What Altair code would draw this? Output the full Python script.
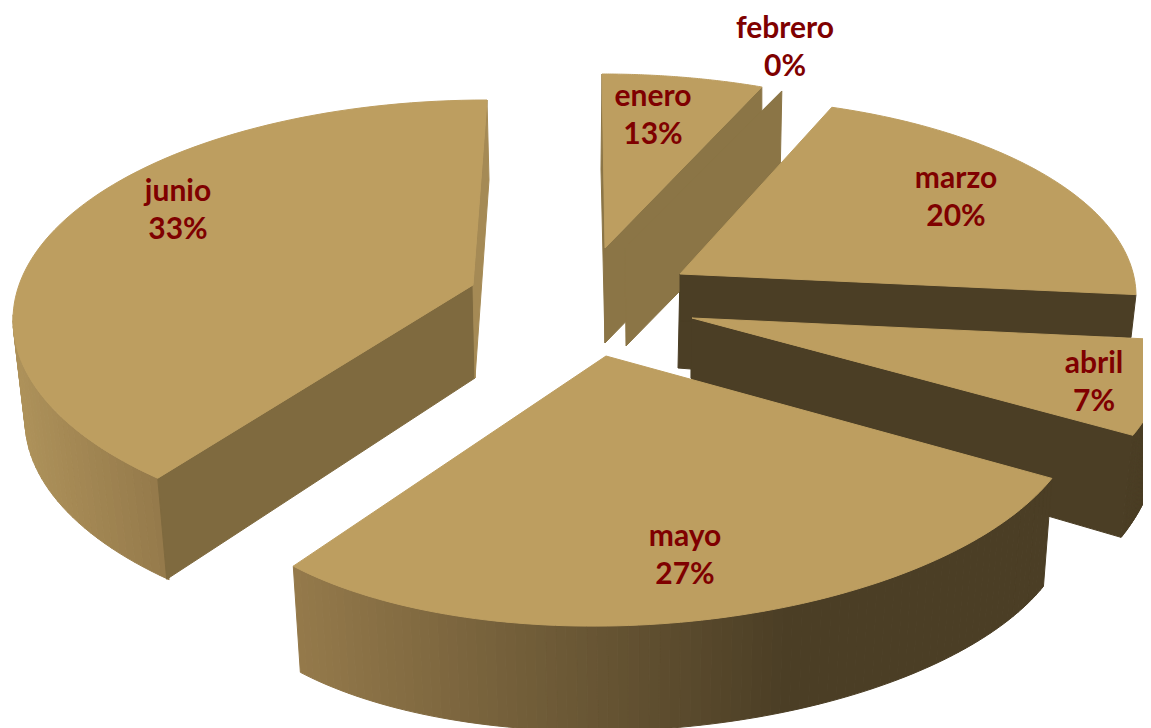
import numpy as np
import altair as alt

# ---- data
months = ["enero", "febrero", "marzo", "abril", "mayo", "junio"]
shares = [13, 0, 20, 7, 27, 33]

# ---- colours
TOP = "#bd9e60"
DARK = "#4b3e25"
TEXT = "#7f0000"

# ---- per-slice view of the tilted pie: apex, top ellipse, shear, first angle,
#      angular stretch of the view, and the extrusion of the cut faces
view = {
    "enero":   dict(apex=(605, 248), e=(602, 264, 440, 190), s=0, t0=0.0, k=21.3 / 46.8,
                    start_drop=(-1, 95), end_drop=(0, 95), start_col="#8b7546", end_col="#8b7546"),
    "febrero": dict(apex=(625, 248), e=(622, 268, 440, 190), s=0, t0=21.3, k=1.0,
                    end_drop=(-2, 98), end_col="#8b7546", apex_drop=(1, 98)),
    "marzo":   dict(apex=(680, 274), e=(700, 296, 436, 198), s=0, t0=17.6, k=1.0,
                    end_drop=(-5, 43), end_col=DARK, apex_drop=(0, 47)),
    "abril":   dict(apex=(692, 318), e=(700, 340, 470, 245), s=0, t0=90.0, k=22.9 / 25.2,
                    end_drop=(-12, 102), end_col=DARK, apex_drop=(-1, 94),
                    low=(690, 442, 468, 245), wall=(DARK, DARK, 0, 1)),
    "junio":   dict(apex=(473, 285), e=(487, 320, 474, 220), s=0, t0=224.0, k=136.0 / 118.8,
                    start_drop=(9, 101), start_col="#7f6a3f", end_drop=(2, 80), end_col="#a58a55",
                    apex_drop=(2, 93), low=(497, 420, 472, 222), wall=("#957a4b", "#ae925a", 160, 13)),
    "mayo":    dict(apex=(606, 356), e=(640, 429, 440, 196), s=-0.0475, t0=110.6, k=121.4 / 97.2,
                    low=(640, 538, 431, 192), wall=("#4b3e25", "#957a4b", 790, 293)),
}
draw_order = ["enero", "febrero", "marzo", "abril", "junio", "mayo"]
label_pos = {"enero": (653, 96.5), "febrero": (785, 28.5), "marzo": (956, 178.5),
             "abril": (1094, 363.5), "mayo": (685, 536.5), "junio": (178, 191.5)}
LINE_GAP = 38
W, H = 1135, 720


def pt(ell, s, t):
    cx, cy, rx, ry = ell
    a = np.radians(t)
    return (float(cx + rx * np.sin(a)), float(cy - ry * np.cos(a) + s * rx * np.sin(a)))


def feature(points, colour):
    ring = [list(map(float, p)) for p in points]
    ring.append(ring[0])
    return {"type": "Feature", "properties": {"c": colour},
            "geometry": {"type": "Polygon", "coordinates": [ring]}}


def mix(c0, c1, f):
    f = min(max(f, 0.0), 1.0)
    a = [int(c0[i:i + 2], 16) for i in (1, 3, 5)]
    b = [int(c1[i:i + 2], 16) for i in (1, 3, 5)]
    return "#%02x%02x%02x" % tuple(round(x + (y - x) * f) for x, y in zip(a, b))


features = []
# dark block seen behind the marzo / abril cut
features.append(feature([(680, 274), (678, 368), (691, 369), (691, 378), (700, 378), (700, 300)], DARK))

for m in draw_order:
    v = view[m]
    sweep = shares[months.index(m)] * 3.6 * v["k"]
    t0, t1 = v["t0"], v["t0"] + sweep
    ts = np.linspace(t0, t1, 90)
    ap = v["apex"]
    p0, p1 = pt(v["e"], v["s"], t0), pt(v["e"], v["s"], t1)

    if "low" in v:
        c0, c1, x0, x1 = v["wall"]
        for a, b in zip(ts[:-1], ts[1:]):
            if m == "junio" and a >= 270:
                break
            ua, ub = pt(v["e"], v["s"], a), pt(v["e"], v["s"], b)
            la, lb = pt(v["low"], v["s"], a), pt(v["low"], v["s"], b)
            col = mix(c0, c1, (ua[0] - x0) / (x1 - x0)) if x1 != x0 else c0
            features.append(feature([ua, ub, lb, la], col))

    drop = v.get("apex_drop", v.get("end_drop", (0, 0)))
    low_ap = (ap[0] + drop[0], ap[1] + drop[1])
    if "start_drop" in v:
        d = v["start_drop"]
        features.append(feature([ap, p0, (p0[0] + d[0], p0[1] + d[1]), low_ap], v["start_col"]))
    if "end_drop" in v:
        d = v["end_drop"]
        features.append(feature([ap, p1, (p1[0] + d[0], p1[1] + d[1]), low_ap], v["end_col"]))
    if sweep > 0:
        features.append(feature([ap] + [pt(v["e"], v["s"], t) for t in ts], TOP))

rows = []
for m, val in zip(months, shares):
    x, y = label_pos[m]
    rows.append({"x": x, "y": y, "t": m})
    rows.append({"x": x, "y": y + LINE_GAP, "t": f"{val}%"})

shapes = alt.Chart(alt.Data(values=features)).mark_geoshape(strokeWidth=1.0).encode(
    color=alt.Color("properties.c:N", scale=None, legend=None),
    stroke=alt.Stroke("properties.c:N", scale=None, legend=None),
).project(type="identity", scale=1, translate=[-8, -8])

labels = alt.Chart(alt.Data(values=rows)).mark_text(
    font="Lato", fontWeight="bold", fontSize=30, color=TEXT, baseline="middle", align="center"
).encode(
    x=alt.X("x:Q", scale=alt.Scale(domain=[8, 8 + W], range=[0, W]), axis=None),
    y=alt.Y("y:Q", scale=alt.Scale(domain=[8, 8 + H], range=[0, H]), axis=None),
    text="t:N",
)

chart = alt.layer(shapes, labels).properties(
    width=W, height=H, padding=0, background="white",
    autosize=alt.AutoSizeParams(type="none"),
).configure_view(stroke=None)

chart.save("out.html", embed_options={"renderer": "svg", "actions": False})
